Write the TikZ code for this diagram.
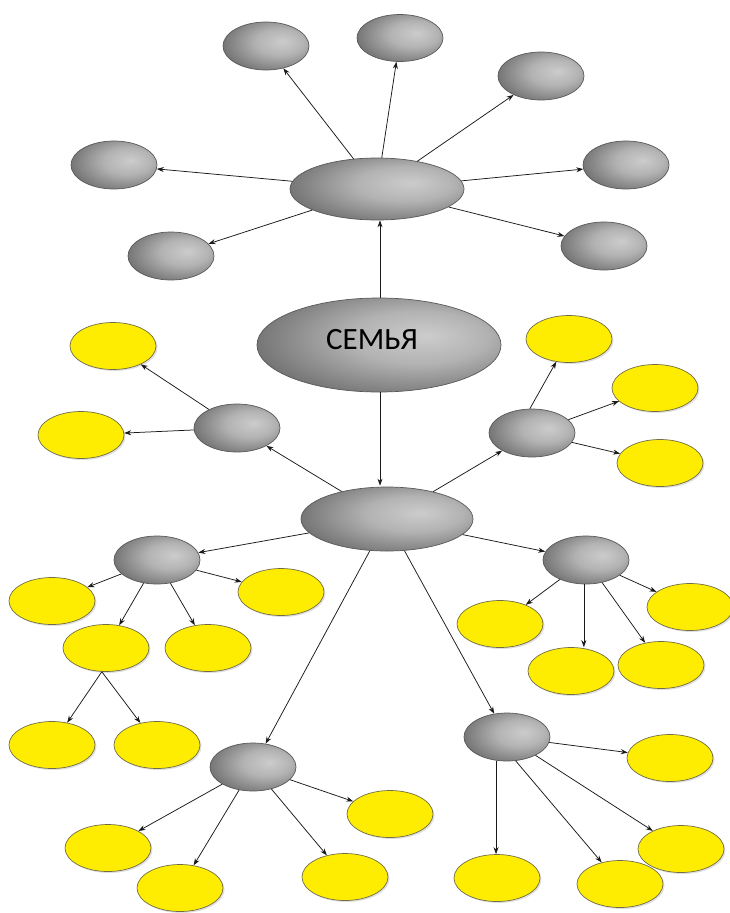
\documentclass[tikz,border=0pt]{standalone}
\usepackage{fontspec}
\setmainfont{Carlito}
\usetikzlibrary{shapes.geometric,arrows.meta,shadows}
\pgfdeclareradialshading{grayball}{\pgfpoint{10bp}{5bp}}{color(0bp)=(black!20); color(14bp)=(black!30); color(34bp)=(black!58); color(52bp)=(black!82); color(75bp)=(black!88)}
\begin{document}
\begin{tikzpicture}[x=1pt,y=-1pt,
  gnode/.style={ellipse, draw=black!65, line width=0.7pt, shading=grayball, inner sep=0pt,
     minimum width=86pt, minimum height=48pt},
  ynode/.style={ellipse, draw=black!55!yellow!80!black, line width=0.7pt, fill=yellow!95!orange, inner sep=0pt,
     minimum width=86pt, minimum height=47pt,
     drop shadow={shadow xshift=1.5pt, shadow yshift=-1.5pt, opacity=0.25}},
  arr/.style={-{Stealth[length=7pt,width=5pt]}, line width=0.75pt, draw=black!90}]
\useasboundingbox (0,0) rectangle (729,913);
% top cluster
\node[gnode, minimum width=174pt, minimum height=62pt] (ht) at (377,189) {};
\node[gnode] (t1) at (266,46) {};
\node[gnode, minimum height=47pt] (t2) at (400,38) {};
\node[gnode] (t3) at (541,76) {};
\node[gnode] (t4) at (626,165) {};
\node[gnode] (t5) at (114,165) {};
\node[gnode] (t6) at (171,256) {};
\node[gnode] (t7) at (604,246) {};
% center
\node[gnode, minimum width=244pt, minimum height=94pt] (s) at (379,345) {};
\node[font=\fontsize{31}{31}\selectfont] (st) at (372,340) {СЕМЬЯ};
% lower hub
\node[gnode, minimum width=172pt, minimum height=64pt] (hb) at (387,519) {};
% mid left
\node[gnode] (ml) at (237,428) {};
\node[ynode] (ml1) at (113,346) {};
\node[ynode] (ml2) at (81,435) {};
% mid right
\node[gnode] (mr) at (532,433) {};
\node[ynode] (mr1) at (569,339) {};
\node[ynode] (mr2) at (655,388) {};
\node[ynode] (mr3) at (660,463) {};
% lower left
\node[gnode] (ll) at (157,560) {};
\node[ynode] (ll1) at (52,601) {};
\node[ynode] (ll2) at (106,648) {};
\node[ynode] (ll3) at (208,648) {};
\node[ynode] (ll4) at (281,592) {};
\node[ynode] (ll5) at (52,745) {};
\node[ynode] (ll6) at (157,745) {};
% lower right
\node[gnode] (lr) at (586,560) {};
\node[ynode] (lr1) at (500,624) {};
\node[ynode] (lr2) at (571,671) {};
\node[ynode] (lr3) at (661,665) {};
\node[ynode] (lr4) at (690,607) {};
% bottom middle
\node[gnode] (bm) at (253,767) {};
\node[ynode] (bm1) at (390,814) {};
\node[ynode] (bm2) at (108,848) {};
\node[ynode] (bm3) at (180,888) {};
\node[ynode] (bm4) at (345,877) {};
% bottom right
\node[gnode] (br) at (507,737) {};
\node[ynode] (br1) at (670,758) {};
\node[ynode] (br2) at (681,849) {};
\node[ynode] (br3) at (497,878) {};
\node[ynode] (br4) at (620,884) {};
% edges
\foreach \t in {t1,t2,t3,t4,t5,t6,t7} \draw[arr] (ht) -- (\t);
\draw[arr] ([xshift=1pt]s.north) -- ([xshift=1pt]s.north |- ht.south);
\draw[arr] ([xshift=1pt]s.south) -- ([xshift=1pt,yshift=1pt]s.south |- hb.north);
\draw[arr] (hb) -- (ml);
\draw[arr] (ml) -- (ml1);
\draw[arr] (ml) -- (ml2);
\draw[arr] (hb) -- (mr);
\draw[arr] (mr.95) -- (mr1);
\draw[arr] (mr) -- (mr2);
\draw[arr] (mr) -- (mr3);
\draw[arr] (hb) -- (ll);
\foreach \t in {ll1,ll2,ll3,ll4} \draw[arr] (ll) -- (\t);
\draw[arr] (ll2.-100) -- (ll5);
\draw[arr] (ll2.-100) -- (ll6);
\draw[arr] (hb) -- (lr);
\draw[arr] (lr) -- (lr1);
\draw[arr] (lr.-95) -- (lr.-95 |- lr2.north);
\draw[arr] (lr) -- (lr3);
\draw[arr] (lr) -- (lr4);
\draw[arr] (hb) -- (bm);
\foreach \t in {bm1,bm2,bm3,bm4} \draw[arr] (bm) -- (\t);
\draw[arr] (hb) -- (br);
\draw[arr] (br) -- (br1);
\draw[arr] (br) -- (br2);
\draw[arr] (br.-115) -- (br3.north -| br.-115);
\draw[arr] (br.-70) -- (br4);
\end{tikzpicture}
\end{document}
